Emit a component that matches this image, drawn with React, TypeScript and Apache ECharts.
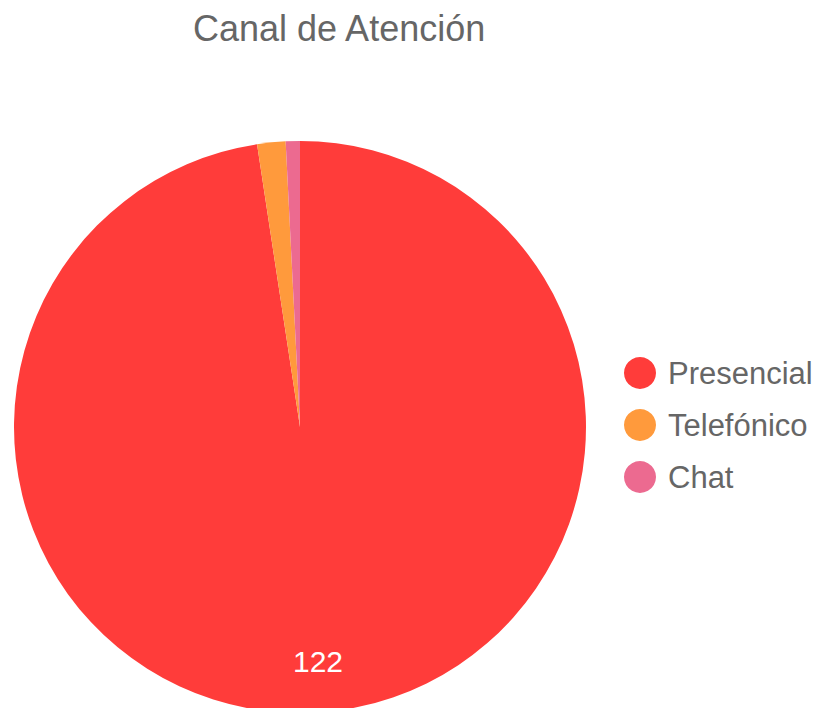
import React, { useEffect, useRef } from "react";
import * as echarts from "echarts";

const categories = ["Presencial", "Telefónico", "Chat"];
const values = [122, 2, 1];
const colors = ["#ff3c3a", "#ff9a3c", "#ec6a90"];
const titleText = "Canal de Atención";

export default function App() {
  const ref = useRef<HTMLDivElement>(null);
  useEffect(() => {
    if (!ref.current) return;
    const chart = echarts.init(ref.current, undefined, { renderer: "svg" });
    const font = "'Liberation Sans', Arial, Helvetica, sans-serif";
    chart.setOption({
      animation: false,
      title: {
        text: titleText,
        left: 193,
        top: 10,
        padding: 0,
        textStyle: { fontFamily: font, fontSize: 36, fontWeight: "normal", color: "#666666" },
      },
      legend: {
        orient: "vertical",
        left: 624,
        top: 357,
        padding: 0,
        icon: "circle",
        itemWidth: 32,
        itemHeight: 32,
        itemGap: 20,
        data: categories,
        textStyle: { fontFamily: font, fontSize: 31, color: "#666666", padding: [0, 0, 0, 7] },
      },
      series: [
        {
          type: "pie",
          center: [300, 427],
          radius: [0, 286],
          startAngle: 90,
          clockwise: true,
          silent: true,
          label: { show: false },
          labelLine: { show: false },
          labelLayout: { dx: 7, dy: 89 },
          data: categories.map((name, i) => ({
            name,
            value: values[i],
            itemStyle: { color: colors[i] },
            label:
              i === 0
                ? {
                    show: true,
                    position: "inside",
                    formatter: "{c}",
                    color: "#ffffff",
                    fontFamily: font,
                    fontSize: 30,
                  }
                : { show: false },
          })),
        },
      ],
    });
    return () => chart.dispose();
  }, []);
  return (
    <div
      ref={ref}
      style={{ position: "absolute", left: 0, top: 0, width: 822, height: 708 }}
    />
  );
}
